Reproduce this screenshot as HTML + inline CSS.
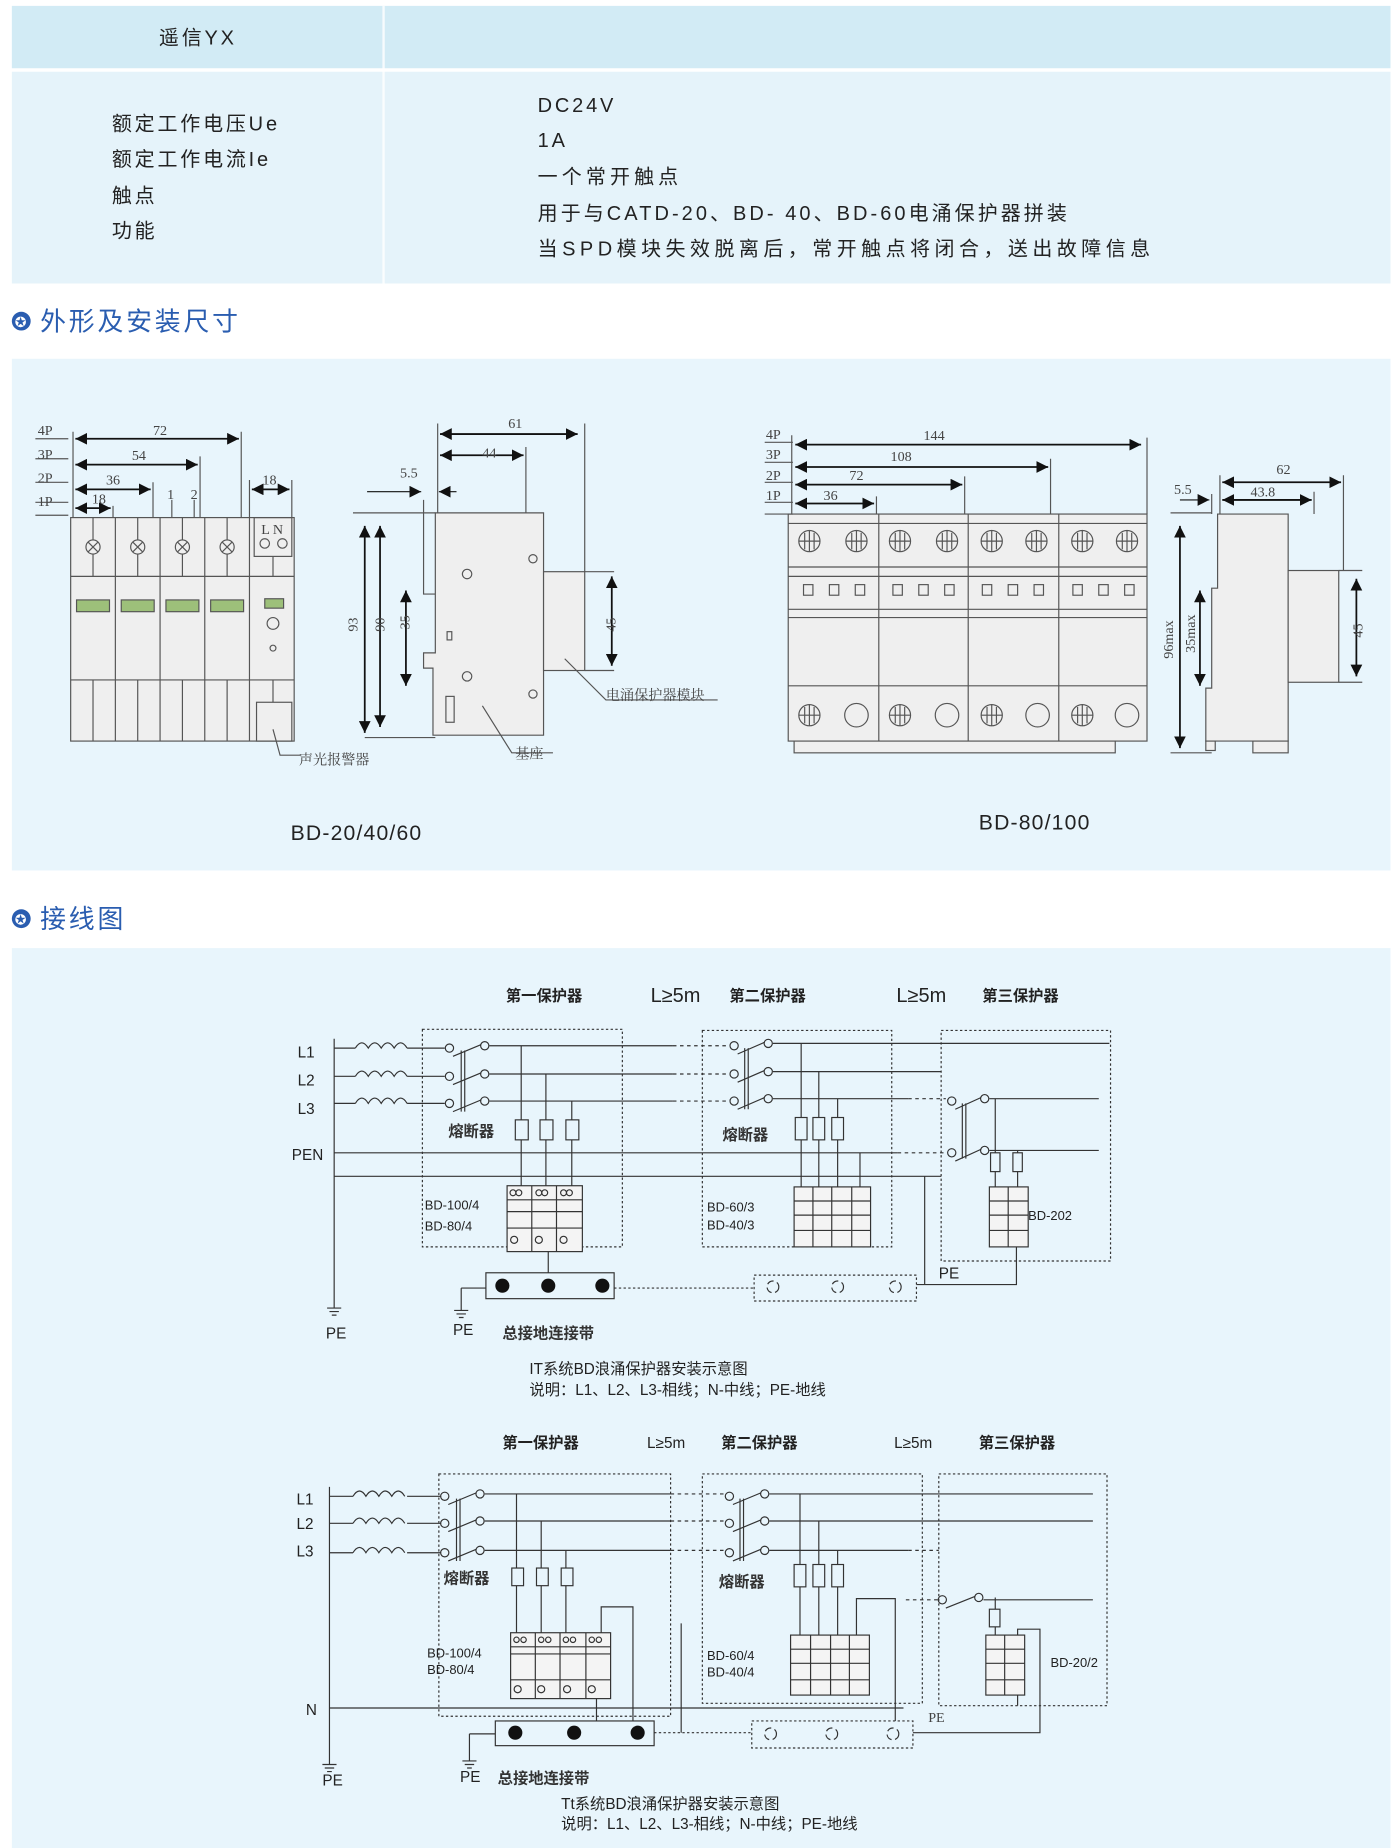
<!DOCTYPE html>
<html><head><meta charset="utf-8"><style>
html,body{margin:0;padding:0;background:#fff;}
svg{display:block}
text{font-family:"Liberation Sans","Noto Sans CJK SC",sans-serif;fill:#222}
.s{font-family:"Liberation Serif","Noto Serif CJK SC",serif;fill:#444;font-size:12px}
.d{fill:none;stroke:#333;stroke-width:1;stroke-dasharray:2,2}
.l{stroke:#333;stroke-width:1;fill:none}
.g{stroke:#555;stroke-width:1;fill:none}
.b{stroke:#555;stroke-width:1;fill:#efefef}
.t{letter-spacing:2.4px}
.w{font-weight:bold;fill:#333}
</style></head><body>
<svg width="1400" height="1848" viewBox="0 0 1190 1571" xmlns="http://www.w3.org/2000/svg">
<defs>
<marker id="a" viewBox="0 0 10 10" refX="10" refY="5" markerWidth="10" markerHeight="10" markerUnits="userSpaceOnUse" orient="auto-start-reverse"><path d="M0,0 L10,5 L0,10z" fill="#111"/></marker>
<g id="ind"><path class="l" d="M0,0 q5.5,-9 11,0 q5.5,-9 11,0 q5.5,-9 11,0 q5.5,-9 11,0"/></g>
<g id="gnd"><path class="l" d="M-6,0 h12 M-4,3 h8 M-2,6 h4"/></g>
<g id="x"><circle r="6" class="g" fill="#fff"/><path class="g" d="M-4,-4 L4,4 M4,-4 L-4,4"/></g>
<g id="p"><circle r="9" class="g" fill="#fff"/><path class="g" d="M-9,0 h18 M0,-9 v18 M-4,-7 v14 M4,-7 v14"/></g>
</defs>

<!-- table -->
<rect x="10" y="5" width="1172" height="53" fill="#d2ebf5"/>
<rect x="10" y="61" width="1172" height="180" fill="#e5f3fa"/>
<rect x="325" y="5" width="2" height="236" fill="#fff" opacity="0.8"/>
<text x="135" y="38" font-size="17" class="t">遥信YX</text>
<g font-size="17" class="t"><text x="95" y="111">额定工作电压Ue</text><text x="95" y="141">额定工作电流Ie</text><text x="95" y="172">触点</text><text x="95" y="202">功能</text>
<text x="457" y="95">DC24V</text><text x="457" y="125">1A</text><text x="457" y="156" style="letter-spacing:3.5px">一个常开触点</text><text x="457" y="187" style="letter-spacing:2.6px">用于与CATD-20、BD- 40、BD-60电涌保护器拼装</text><text x="457" y="217" style="letter-spacing:3.8px">当SPD模块失效脱离后，常开触点将闭合，送出故障信息</text></g>

<circle cx="18" cy="273" r="8" fill="#2a5db0"/><text x="12.5" y="278" font-size="12" style="fill:#fff">✪</text>
<text x="34" y="281" font-size="22" class="t" style="fill:#2a5db0">外形及安装尺寸</text>
<rect x="10" y="305" width="1172" height="435" fill="#e8f5fc"/>

<!-- left front view -->
<g>
<rect x="60" y="440" width="190" height="190" class="b"/>
<path class="g" d="M98,440V630M136,440V630M174,440V630M212,440V630M60,490H250M60,578H250"/>
<use href="#x" x="79" y="465"/><use href="#x" x="117" y="465"/><use href="#x" x="155" y="465"/><use href="#x" x="193" y="465"/>
<path class="g" d="M79,440v19M117,440v19M155,440v19M193,440v19M79,471v19M117,471v19M155,471v19M193,471v19"/>
<g fill="#9dc07a" stroke="#555"><rect x="65" y="510" width="28" height="10"/><rect x="103" y="510" width="28" height="10"/><rect x="141" y="510" width="28" height="10"/><rect x="179" y="510" width="28" height="10"/><rect x="225" y="509" width="16" height="8"/></g>
<rect x="216" y="440" width="32" height="33" class="g"/><text x="222" y="454" class="s" font-size="9">L N</text>
<circle cx="225" cy="462" r="4" class="g"/><circle cx="240" cy="462" r="4" class="g"/>
<circle cx="232" cy="530" r="5" class="g"/><circle cx="232" cy="551" r="2.5" class="g"/>
<rect x="218" y="597" width="30" height="33" class="g"/>
<path class="g" d="M79,578v52M117,578v52M155,578v52M193,578v52M232,473v17M232,578v19M232,620 l6,22 h18"/>
<text x="254" y="650" class="s" font-size="13">声光报警器</text>
<path class="g" d="M30,373H58M30,390H58M30,410H58M30,427H58M30,438H58M62,367V440M205,367V440M170,388V440M130,410V440M96,430V440M248,408V440M212,408V440M146,425v15M165,425v15"/>
<text x="32" y="370" class="s">4P</text><text x="32" y="390" class="s">3P</text><text x="32" y="410" class="s">2P</text><text x="32" y="430" class="s">1P</text>
<line x1="64" y1="373" x2="203" y2="373" stroke="#111" stroke-width="1.5" marker-start="url(#a)" marker-end="url(#a)"/>
<line x1="64" y1="395" x2="168" y2="395" stroke="#111" stroke-width="1.5" marker-start="url(#a)" marker-end="url(#a)"/>
<line x1="64" y1="416" x2="128" y2="416" stroke="#111" stroke-width="1.5" marker-start="url(#a)" marker-end="url(#a)"/>
<line x1="64" y1="432" x2="94" y2="432" stroke="#111" stroke-width="1.5" marker-start="url(#a)" marker-end="url(#a)"/>
<line x1="214" y1="416" x2="246" y2="416" stroke="#111" stroke-width="1.5" marker-start="url(#a)" marker-end="url(#a)"/>
<text x="130" y="370" class="s">72</text><text x="112" y="391" class="s">54</text><text x="90" y="412" class="s">36</text><text x="78" y="428" class="s">18</text><text x="142" y="424" class="s">1</text><text x="162" y="424" class="s">2</text><text x="223" y="412" class="s">18</text>
</g>

<!-- left side view -->
<g>
<path class="b" d="M370,436H462V625H368V568H360V555H370Z"/>
<rect x="462" y="486" width="35" height="84" class="b"/>
<path class="g" d="M360,425V505H370M497,360V486M447,380V436M372,360V436M300,436H370M310,627H370M497,486h25M497,570h25M480,560l35,35h95M410,600l25,40h35"/>
<circle cx="397" cy="488" r="4" class="g"/><circle cx="453" cy="475" r="3.5" class="g"/><circle cx="397" cy="575" r="4" class="g"/><circle cx="453" cy="590" r="3.5" class="g"/>
<rect x="380" y="537" width="4" height="7" class="g"/><rect x="379" y="592" width="7" height="22" class="g"/>
<line x1="374" y1="369" x2="491" y2="369" stroke="#111" stroke-width="1.5" marker-start="url(#a)" marker-end="url(#a)"/>
<line x1="374" y1="387" x2="445" y2="387" stroke="#111" stroke-width="1.5" marker-start="url(#a)" marker-end="url(#a)"/>
<line x1="312" y1="418" x2="358" y2="418" stroke="#111" marker-end="url(#a)"/>
<line x1="388" y1="418" x2="373" y2="418" stroke="#111" marker-end="url(#a)"/>
<line x1="310" y1="447" x2="310" y2="623" stroke="#111" stroke-width="1.5" marker-start="url(#a)" marker-end="url(#a)"/>
<line x1="323" y1="447" x2="323" y2="618" stroke="#111" stroke-width="1.5" marker-start="url(#a)" marker-end="url(#a)"/>
<line x1="345" y1="502" x2="345" y2="583" stroke="#111" stroke-width="1.5" marker-start="url(#a)" marker-end="url(#a)"/>
<line x1="520" y1="490" x2="520" y2="566" stroke="#111" stroke-width="1.5" marker-start="url(#a)" marker-end="url(#a)"/>
<text x="432" y="364" class="s">61</text><text x="410" y="389" class="s">44</text><text x="340" y="406" class="s">5.5</text>
<text class="s" transform="translate(304,537) rotate(-90)">93</text><text class="s" transform="translate(327,537) rotate(-90)">90</text><text class="s" transform="translate(348,535) rotate(-90)">35</text><text class="s" transform="translate(523,537) rotate(-90)">45</text>
<text x="515" y="595" class="s" font-size="13">电涌保护器模块</text><text x="438" y="645" class="s" font-size="13">基座</text>
</g>
<text x="247" y="714" font-size="18" style="letter-spacing:1px">BD-20/40/60</text>

<!-- right front view -->
<g>
<rect x="670" y="437" width="305" height="193" class="b"/>
<rect x="675" y="630" width="273" height="10" class="b"/>
<path class="g" d="M670,445H975M670,482H975M670,490H975M670,518H975M670,525H975M670,583H975M747,437V630M823,437V630M900,437V630"/>
<use href="#p" x="688" y="460"/><use href="#p" x="728" y="460"/><use href="#p" x="765" y="460"/><use href="#p" x="805" y="460"/><use href="#p" x="843" y="460"/><use href="#p" x="881" y="460"/><use href="#p" x="920" y="460"/><use href="#p" x="958" y="460"/>
<g class="g"><rect x="683" y="497" width="8" height="9"/><rect x="705" y="497" width="8" height="9"/><rect x="727" y="497" width="8" height="9"/><rect x="759" y="497" width="8" height="9"/><rect x="781" y="497" width="8" height="9"/><rect x="803" y="497" width="8" height="9"/><rect x="835" y="497" width="8" height="9"/><rect x="857" y="497" width="8" height="9"/><rect x="879" y="497" width="8" height="9"/><rect x="912" y="497" width="8" height="9"/><rect x="934" y="497" width="8" height="9"/><rect x="956" y="497" width="8" height="9"/></g>
<use href="#p" x="688" y="608"/><use href="#p" x="765" y="608"/><use href="#p" x="843" y="608"/><use href="#p" x="920" y="608"/>
<circle cx="728" cy="608" r="10" class="g" fill="#fff"/><circle cx="805" cy="608" r="10" class="g" fill="#fff"/><circle cx="882" cy="608" r="10" class="g" fill="#fff"/><circle cx="958" cy="608" r="10" class="g" fill="#fff"/>
<path class="g" d="M650,376H674M650,393H674M650,410H674M650,427H674M650,437H674M673,370V437M975,372V437M893,390V437M820,405V437M745,422V437"/>
<text x="651" y="373" class="s">4P</text><text x="651" y="390" class="s">3P</text><text x="651" y="408" class="s">2P</text><text x="651" y="425" class="s">1P</text>
<line x1="676" y1="378" x2="970" y2="378" stroke="#111" stroke-width="1.5" marker-start="url(#a)" marker-end="url(#a)"/>
<line x1="676" y1="397" x2="891" y2="397" stroke="#111" stroke-width="1.5" marker-start="url(#a)" marker-end="url(#a)"/>
<line x1="676" y1="412" x2="818" y2="412" stroke="#111" stroke-width="1.5" marker-start="url(#a)" marker-end="url(#a)"/>
<line x1="676" y1="428" x2="743" y2="428" stroke="#111" stroke-width="1.5" marker-start="url(#a)" marker-end="url(#a)"/>
<text x="785" y="374" class="s">144</text><text x="757" y="392" class="s">108</text><text x="722" y="408" class="s">72</text><text x="700" y="425" class="s">36</text>
</g>
<!-- right side view -->
<g>
<path class="b" d="M1035,437H1095V630H1025V585H1030V500H1035Z"/>
<rect x="1095" y="485" width="43" height="95" class="b"/>
<rect x="1065" y="630" width="30" height="10" class="b"/><rect x="1025" y="630" width="8" height="8" class="b"/>
<path class="g" d="M1037,404V437M1117,418V437M1142,404V485M1030,420V437M995,436H1030M995,640H1030M1138,485h20M1138,580h20"/>
<line x1="1039" y1="410" x2="1140" y2="410" stroke="#111" stroke-width="1.5" marker-start="url(#a)" marker-end="url(#a)"/>
<line x1="1039" y1="425" x2="1115" y2="425" stroke="#111" stroke-width="1.5" marker-start="url(#a)" marker-end="url(#a)"/>
<line x1="1003" y1="425" x2="1028" y2="425" stroke="#111" marker-end="url(#a)"/>
<line x1="1003" y1="447" x2="1003" y2="636" stroke="#111" stroke-width="1.5" marker-start="url(#a)" marker-end="url(#a)"/>
<line x1="1020" y1="502" x2="1020" y2="583" stroke="#111" stroke-width="1.5" marker-start="url(#a)" marker-end="url(#a)"/>
<line x1="1153" y1="492" x2="1153" y2="575" stroke="#111" stroke-width="1.5" marker-start="url(#a)" marker-end="url(#a)"/>
<text x="1085" y="403" class="s">62</text><text x="1063" y="422" class="s">43.8</text><text x="998" y="420" class="s">5.5</text>
<text class="s" transform="translate(997,560) rotate(-90)">96max</text><text class="s" transform="translate(1016,555) rotate(-90)">35max</text><text class="s" transform="translate(1158,542) rotate(-90)">45</text>
</g>
<text x="832" y="705" font-size="18" style="letter-spacing:1px">BD-80/100</text>

<circle cx="18" cy="781" r="8" fill="#2a5db0"/><text x="12.5" y="786" font-size="12" style="fill:#fff">✪</text>
<text x="34" y="789" font-size="22" class="t" style="fill:#2a5db0">接线图</text>
<rect x="10" y="806" width="1172" height="765" fill="#e8f5fc"/>

<!-- diagram 1 -->
<g font-size="13">
<g class="w"><text x="430" y="851">第一保护器</text><text x="553" y="852" font-size="17" style="font-weight:normal">L≥5m</text><text x="620" y="851">第二保护器</text><text x="762" y="852" font-size="17" style="font-weight:normal">L≥5m</text><text x="835" y="851">第三保护器</text></g>
<text x="253" y="899">L1</text><text x="253" y="923">L2</text><text x="253" y="947">L3</text><text x="248" y="986">PEN</text>
<rect class="d" x="359" y="875" width="170" height="185"/><rect class="d" x="597" y="876" width="161" height="184"/><rect class="d" x="800" y="876" width="144" height="196"/>
<path class="l" d="M284,883V1112M284,891H302M346,891H378M284,915H302M346,915H378M284,938H302M346,938H378"/>
<use href="#ind" x="302" y="891"/><use href="#ind" x="302" y="915"/><use href="#ind" x="302" y="938"/>
<g class="l"><circle cx="382" cy="891" r="3.5"/><circle cx="412" cy="889" r="3.5"/><circle cx="382" cy="915" r="3.5"/><circle cx="412" cy="913" r="3.5"/><circle cx="382" cy="938" r="3.5"/><circle cx="412" cy="936" r="3.5"/>
<path d="M385,898L409,888M385,922L409,912M385,945L409,935M392,893V945M395,893V945"/>
<path d="M416,889H572M416,913H572M416,936H572"/><path class="d" d="M572,889H620M572,913H620M572,936H620" style="stroke-dasharray:3,3"/>
<circle cx="624" cy="889" r="3.5"/><circle cx="653" cy="887" r="3.5"/><circle cx="624" cy="913" r="3.5"/><circle cx="653" cy="911" r="3.5"/><circle cx="624" cy="936" r="3.5"/><circle cx="653" cy="934" r="3.5"/>
<path d="M627,896L650,886M627,920L650,910M627,943L650,933M633,891V943M636,891V943"/>
<path d="M657,887H943M657,911H800M657,934H772M284,980H763M284,1000H800"/>
<path class="d" d="M772,934H804M763,980H805" style="stroke-dasharray:3,3"/>
<circle cx="809" cy="936" r="3.5"/><circle cx="837" cy="934" r="3.5"/><circle cx="809" cy="980" r="3.5"/><circle cx="837" cy="978" r="3.5"/>
<path d="M812,943L834,933M812,987L834,977M818,938V985M821,938V985M841,934H934M841,978H934"/>
<path d="M443,889V1008M464,913V1008M486,936V1008M681,887V1009M696,911V1009M712,934V1009M731,980V1009M846,934V1009M865,978V1009M466,1064V1082M392,1095H413M392,1095V1114M786,1000V1092M779,1092H864V1060"/>
<rect x="438" y="952" width="11" height="17" fill="#e8f5fc"/><rect x="459" y="952" width="11" height="17" fill="#e8f5fc"/><rect x="481" y="952" width="11" height="17" fill="#e8f5fc"/>
<rect x="676" y="950" width="10" height="19" fill="#e8f5fc"/><rect x="691" y="950" width="10" height="19" fill="#e8f5fc"/><rect x="707" y="950" width="10" height="19" fill="#e8f5fc"/>
<rect x="842" y="980" width="8" height="16" fill="#e8f5fc"/><rect x="861" y="980" width="8" height="16" fill="#e8f5fc"/>
<rect x="431" y="1008" width="64" height="56" fill="#f4f4f4"/><path d="M452,1008V1064M473,1008V1064M431,1020H495M431,1030H495M431,1044H495"/>
<rect x="675" y="1009" width="65" height="51" fill="#f4f4f4"/><path d="M691,1009V1060M707,1009V1060M724,1009V1060M675,1021H740M675,1033H740M675,1046H740"/>
<rect x="841" y="1009" width="33" height="51" fill="#f4f4f4"/><path d="M857,1009V1060M841,1021H874M841,1033H874M841,1046H874"/>
<circle cx="436" cy="1014" r="2.5"/><circle cx="441" cy="1014" r="2.5"/><circle cx="458" cy="1014" r="2.5"/><circle cx="463" cy="1014" r="2.5"/><circle cx="479" cy="1014" r="2.5"/><circle cx="484" cy="1014" r="2.5"/><circle cx="437" cy="1054" r="3"/><circle cx="458" cy="1054" r="3"/><circle cx="479" cy="1054" r="3"/>
<rect x="413" y="1082" width="109" height="22" fill="#e8f5fc"/>
</g>
<use href="#gnd" x="284" y="1112"/><use href="#gnd" x="392" y="1114"/>
<circle cx="427" cy="1093" r="6" fill="#111"/><circle cx="466" cy="1093" r="6" fill="#111"/><circle cx="512" cy="1093" r="6" fill="#111"/>
<path class="d" d="M522,1095H641"/><rect class="d" x="641" y="1084" width="138" height="22"/>
<g class="l"><circle cx="657" cy="1094" r="5" stroke-dasharray="6,3"/><circle cx="712" cy="1094" r="5" stroke-dasharray="6,3"/><circle cx="761" cy="1094" r="5" stroke-dasharray="6,3"/></g>
<text x="381" y="966" class="w">熔断器</text><text x="614" y="969" class="w">熔断器</text>
<g font-size="11"><text x="361" y="1028">BD-100/4</text><text x="361" y="1046">BD-80/4</text><text x="601" y="1030">BD-60/3</text><text x="601" y="1045">BD-40/3</text><text x="874" y="1037">BD-202</text></g>
<text x="798" y="1087">PE</text><text x="277" y="1138">PE</text><text x="385" y="1135">PE</text><text x="427" y="1138" class="w">总接地连接带</text>
<text x="450" y="1168">IT系统BD浪涌保护器安装示意图</text><text x="450" y="1186">说明：L1、L2、L3-相线；N-中线；PE-地线</text>
</g>

<!-- diagram 2 -->
<g font-size="13">
<g class="w"><text x="427" y="1231">第一保护器</text><text x="550" y="1231" style="font-weight:normal">L≥5m</text><text x="613" y="1231">第二保护器</text><text x="760" y="1231" style="font-weight:normal">L≥5m</text><text x="832" y="1231">第三保护器</text></g>
<text x="252" y="1279">L1</text><text x="252" y="1300">L2</text><text x="252" y="1323">L3</text><text x="260" y="1458">N</text>
<rect class="d" x="373" y="1253" width="197" height="206"/><rect class="d" x="597" y="1253" width="187" height="195"/><rect class="d" x="798" y="1253" width="143" height="197"/>
<path class="l" d="M280,1264V1500M280,1272H300M346,1272H375M280,1295H300M346,1295H375M280,1320H300M346,1320H375"/>
<use href="#ind" x="300" y="1272"/><use href="#ind" x="300" y="1295"/><use href="#ind" x="300" y="1320"/>
<g class="l"><circle cx="378" cy="1272" r="3.5"/><circle cx="408" cy="1270" r="3.5"/><circle cx="378" cy="1295" r="3.5"/><circle cx="408" cy="1293" r="3.5"/><circle cx="378" cy="1320" r="3.5"/><circle cx="408" cy="1318" r="3.5"/>
<path d="M381,1279L405,1269M381,1302L405,1292M381,1327L405,1317M388,1274V1327M391,1274V1327"/>
<path d="M412,1270H570M412,1293H570M412,1318H570"/><path class="d" d="M570,1270H616M570,1293H616M570,1318H616" style="stroke-dasharray:3,3"/>
<circle cx="620" cy="1272" r="3.5"/><circle cx="650" cy="1270" r="3.5"/><circle cx="620" cy="1295" r="3.5"/><circle cx="650" cy="1293" r="3.5"/><circle cx="620" cy="1320" r="3.5"/><circle cx="650" cy="1318" r="3.5"/>
<path d="M623,1279L647,1269M623,1302L647,1292M623,1327L647,1317M629,1274V1327M632,1274V1327"/>
<path d="M654,1270H929M654,1293H929M654,1318H772M280,1452H768M836,1360H929"/>
<path class="d" d="M772,1318H798M770,1360H797" style="stroke-dasharray:3,3"/>
<circle cx="801" cy="1360" r="3.5"/><circle cx="832" cy="1358" r="3.5"/><path d="M804,1367L829,1357"/>
<path d="M439,1270V1388M460,1293V1388M481,1318V1388M511,1388V1366H538V1463M507,1444V1463M399,1474H421M399,1474V1497M579,1380V1473M680,1270V1390M696,1293V1390M712,1318V1390M728,1390V1359H761V1463M846,1358V1390M865,1390V1385H884V1473H776M865,1441V1450"/>
<rect x="435" y="1333" width="10" height="15" fill="#e8f5fc"/><rect x="456" y="1333" width="10" height="15" fill="#e8f5fc"/><rect x="477" y="1333" width="10" height="15" fill="#e8f5fc"/>
<rect x="675" y="1330" width="10" height="19" fill="#e8f5fc"/><rect x="691" y="1330" width="10" height="19" fill="#e8f5fc"/><rect x="707" y="1330" width="10" height="19" fill="#e8f5fc"/>
<rect x="841" y="1368" width="9" height="15" fill="#e8f5fc"/>
<rect x="434" y="1388" width="85" height="56" fill="#f4f4f4"/><path d="M455,1388V1444M476,1388V1444M498,1388V1444M434,1400H519M434,1406H519M434,1428H519"/>
<circle cx="439" cy="1394" r="2.3"/><circle cx="445" cy="1394" r="2.3"/><circle cx="460" cy="1394" r="2.3"/><circle cx="466" cy="1394" r="2.3"/><circle cx="481" cy="1394" r="2.3"/><circle cx="487" cy="1394" r="2.3"/><circle cx="503" cy="1394" r="2.3"/><circle cx="509" cy="1394" r="2.3"/>
<circle cx="440" cy="1436" r="3"/><circle cx="460" cy="1436" r="3"/><circle cx="482" cy="1436" r="3"/><circle cx="503" cy="1436" r="3"/>
<rect x="672" y="1390" width="67" height="51" fill="#f4f4f4"/><path d="M689,1390V1441M706,1390V1441M722,1390V1441M672,1402H739M672,1414H739M672,1428H739"/>
<rect x="838" y="1390" width="33" height="51" fill="#f4f4f4"/><path d="M854,1390V1441M838,1402H871M838,1414H871M838,1428H871"/>
<rect x="421" y="1463" width="135" height="21" fill="#e8f5fc"/>
</g>
<use href="#gnd" x="280" y="1500"/><use href="#gnd" x="399" y="1497"/>
<circle cx="438" cy="1473" r="6" fill="#111"/><circle cx="488" cy="1473" r="6" fill="#111"/><circle cx="542" cy="1473" r="6" fill="#111"/>
<path class="d" d="M556,1473H639"/><rect class="d" x="639" y="1463" width="137" height="23"/>
<g class="l"><circle cx="655" cy="1474" r="5" stroke-dasharray="6,3"/><circle cx="707" cy="1474" r="5" stroke-dasharray="6,3"/><circle cx="759" cy="1474" r="5" stroke-dasharray="6,3"/></g>
<text x="377" y="1346" class="w">熔断器</text><text x="611" y="1349" class="w">熔断器</text>
<g font-size="11"><text x="363" y="1409">BD-100/4</text><text x="363" y="1423">BD-80/4</text><text x="601" y="1411">BD-60/4</text><text x="601" y="1425">BD-40/4</text><text x="893" y="1417">BD-20/2</text></g>
<text x="789" y="1464" class="s" font-size="16">PE</text>
<text x="274" y="1518">PE</text><text x="391" y="1515">PE</text><text x="423" y="1516" class="w">总接地连接带</text>
<text x="477" y="1538">Tt系统BD浪涌保护器安装示意图</text><text x="477" y="1555">说明：L1、L2、L3-相线；N-中线；PE-地线</text>
</g>
</svg>
</body></html>
